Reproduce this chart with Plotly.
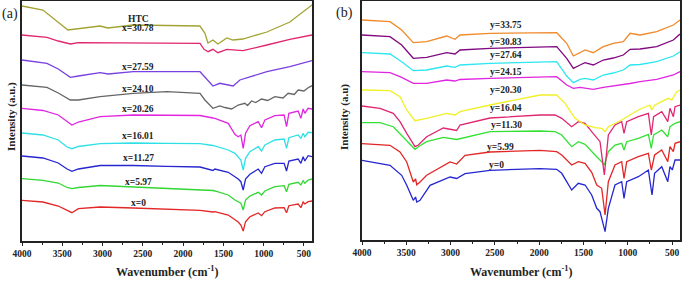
import plotly.graph_objects as go

# ---------------- Panel (a) data ----------------
A_WN_LOW = [4000, 3740, 3550, 3440, 3380, 3300, 3030, 2620, 2200, 1790, 1630, 1605, 1440, 1357, 1316,
            1283, 1254, 1225, 1171, 1068, 1026, 985, 861, 746, 716, 687, 572, 538, 510, 489, 448, 400]
a_x0 = [40.7, 39, 35, 31, 28.3, 32.3, 34, 33, 31.7, 30.7, 29, 29.3, 26, 21, 19,
        16, 10, 19.3, 24.3, 28, 25.3, 29.3, 33, 33.3, 28.3, 35.3, 37, 33.3, 39, 37, 39.3, 40]
a_x597 = [62.3, 60.7, 58, 53.5, 52.3, 53.5, 55.5, 54, 52.5, 51.7, 50.5, 50, 46, 41, 39.3,
          37.7, 31, 41, 45, 48.7, 46, 50, 54.3, 55.3, 49.3, 56.7, 58.7, 56, 60.3, 57.7, 61, 62]
a_x1127 = [85, 83, 78, 72, 69.7, 72, 75.5, 75.5, 74.7, 74, 70.5, 72, 68.7, 64.3, 62,
           59.3, 51, 62, 66.7, 72, 67.7, 74.3, 77.7, 77.7, 70, 80, 82, 77.7, 84.3, 80, 85.3, 84.3]
a_x1601 = [108, 106, 101, 94, 92.3, 94.5, 97.3, 98, 97.7, 97.3, 95.5, 95, 91, 87.7, 84.3,
           81, 71, 82.7, 89.3, 94.3, 90, 96, 101, 102, 92.7, 103.3, 106, 102.7, 107.7, 104.3, 108.7, 108.3]
a_x2026 = [132.7, 130.5, 126, 119, 116, 119, 124.3, 126, 126, 125.5, 123, 122.7, 117.7, 106.7, 104.3,
           106, 92.7, 107.7, 115.3, 119.3, 113.3, 121, 125.3, 126, 114.3, 127.7, 130, 122.7, 132, 127.7, 132.7, 132]

a_x2410_wn = [4000, 3690, 3550, 3400, 3300, 3030, 2620, 2200, 1790, 1730, 1630, 1545, 1481, 1398, 1316,
              1233, 1200, 1150, 1100, 1026, 950, 861, 760, 696, 620, 572, 500, 448, 400]
a_x2410 = [156, 153.7, 148, 141, 141, 144.3, 147.7, 149.3, 147.7, 141, 132.7, 135, 133.5, 132, 136,
           137.7, 135.5, 140, 138.5, 142, 140.5, 144.3, 143, 147.7, 146.5, 151, 150, 153.3, 155.3]

a_x2759_wn = [4000, 3690, 3550, 3400, 3300, 3030, 2930, 2620, 1790, 1730, 1630, 1545, 1420, 1380, 1295, 960, 675, 400]
a_x2759 = [181, 177.7, 172, 163.7, 165, 168.3, 167, 169.3, 169.3, 164.3, 155, 157.7, 156, 155, 161, 169.3, 174.3, 180.3]

a_x3078_wn = [4000, 3690, 3550, 3400, 3300, 2620, 1790, 1740, 1690, 1630, 1568, 1457, 1258, 960, 675, 400]
a_x3078 = [206, 203.7, 200, 197, 198.3, 198.3, 197.7, 191.7, 189.3, 191.7, 188.3, 191.7, 190.3, 196, 201.7, 206]

a_htc_wn = [4000, 3740, 3430, 3032, 2933, 2623, 1792, 1730, 1692, 1630, 1568, 1457, 1382, 1258, 960, 675, 400]
a_htc = [235, 231, 211, 215, 213, 216, 215, 208, 198, 201, 197, 203, 201, 202, 209, 219, 236]

A_NAMES = ["x=0", "x=5.97", "x=11.27", "x=16.01", "x=20.26", "x=24.10", "x=27.59", "x=30.78", "HTC"]
A_COLORS = ["#e32626", "#33d633", "#2626d0", "#2ee0e6", "#e026e0", "#666666", "#7a40e0", "#e0266e", "#a3a332"]
A_LABEL_WN = 2560
A_LABEL_Y = [38, 59, 83, 105, 132, 152, 174, 213, 222]

# ---------------- Panel (b) data ----------------
b_y0_wn = [4000, 3684, 3552, 3495, 3421, 3395, 3382, 3345, 3232, 3006, 2931, 2837, 2555, 1990, 1802, 1745, 1633,
           1558, 1482, 1407, 1350, 1313, 1256, 1219, 1144, 1068, 1042, 1012, 880, 767, 726, 697, 616, 548,
           523, 497, 466, 410]
b_y0 = [79.7, 74.7, 64.7, 54.7, 39.7, 43, 38, 39.7, 54.7, 63, 61.5, 66.3, 69.7, 71.3, 70.7, 66.7, 50,
        56.7, 55, 45, 31.7, 28.3, 8.3, 31.7, 55, 58.3, 41.7, 58.3, 63.3, 70, 45, 66.7, 73.3, 58.3,
        73.3, 70, 80, 80]

b_y599_wn = [4000, 3684, 3571, 3495, 3421, 3395, 3382, 3345, 3270, 3006, 2931, 2837, 2555, 1990, 1802, 1745, 1633,
             1558, 1482, 1407, 1350, 1294, 1256, 1219, 1144, 1068, 1042, 1012, 880, 767, 734, 697, 616, 548,
             523, 485, 466, 410]
b_y599 = [96.3, 94.7, 88, 78, 58, 61, 55.3, 58, 64.7, 78, 76, 84.7, 88, 89.7, 88.3, 85, 75,
          78.3, 76.7, 67.7, 55, 51.7, 25, 58.3, 75, 78.3, 61.7, 78.3, 83.3, 86.7, 70, 85, 90, 78.3,
          93.3, 88.3, 96.7, 98.3]

b_y1130_wn = [4000, 3797, 3647, 3534, 3439, 3402, 3364, 3270, 3082, 2931, 2555, 1990, 1821, 1745, 1633,
              1558, 1482, 1407, 1350, 1294, 1264, 1219, 1144, 1068, 1042, 1012, 880, 767, 734, 708, 616,
              548, 523, 466, 410]
b_y1130 = [117.3, 117.3, 113.3, 103.3, 95, 90.7, 93.3, 98.3, 102.7, 100.5, 108.3, 109, 108.3, 105, 93.3,
           98.3, 95.7, 88.3, 83.3, 78.3, 75, 88.3, 95, 96.7, 90, 98.3, 101.7, 105.7, 91.7, 105, 110,
           103.3, 113.3, 116.7, 118.3]

b_y1604_wn = [4000, 3797, 3647, 3571, 3495, 3439, 3402, 3364, 3270, 3082, 2931, 2894, 2555, 1990, 1821, 1745,
              1633, 1558, 1482, 1407, 1350, 1313, 1264, 1219, 1144, 1068, 1042, 1012, 880, 767, 734, 708,
              616, 548, 523, 485, 466, 410]
b_y1604 = [134, 131.7, 126.7, 118.3, 106.7, 98.3, 93.3, 95, 103.3, 112, 109.5, 115, 122, 125, 125, 121.7,
           113.3, 118.3, 116.7, 108.3, 101.7, 98.3, 65, 105, 115, 118.3, 106.7, 118.3, 123.3, 126.7, 105, 123.3,
           128.3, 118.3, 131.7, 123.3, 133.3, 135]

b_y2030_wn = [4000, 3684, 3571, 3495, 3402, 3270, 3044, 2950, 2894, 2555, 1990, 1802, 1708, 1595, 1482,
              1369, 1294, 1256, 1219, 1068, 881, 749, 730, 692, 542, 503, 447, 410]
b_y2030 = [150, 149.3, 143.3, 130, 119.3, 121.7, 126.7, 125, 128.3, 135, 145, 145, 136.7, 121.7, 115,
           112.3, 111.7, 108.3, 113.3, 120, 130, 135, 130, 135, 141.7, 140, 148.3, 150]

B_WN_UP = [4000, 3684, 3552, 3421, 3270, 3044, 2950, 2894, 2555, 1802, 1689, 1614, 1539, 1482, 1389,
           1276, 1163, 1050, 974, 861, 673, 485, 410]
b_y2415 = [168.3, 167.3, 162.7, 156.7, 156.7, 160, 159, 160.5, 161.7, 163.3, 155, 151.7, 152.7, 152, 150.7,
           152.7, 154, 155, 156.5, 158.3, 160.7, 165, 168.3]
b_y2764 = [187.3, 186, 178.3, 169.3, 170, 174, 172.7, 175, 176.7, 178.3, 164, 157.3, 160.7, 161.7, 160,
           165, 167, 170, 175, 175.5, 178.3, 184, 188.3]
b_y3083 = [205, 203.3, 195, 181.7, 182.7, 187.3, 186, 190, 191.7, 193.3, 181.7, 171.7, 175, 177.3, 175,
           180, 182, 185, 190.7, 191, 193.3, 200, 206]
b_y3375 = [220, 218.3, 210, 197.3, 198.3, 204, 200.7, 205, 206.7, 207.3, 196.7, 184, 187.3, 190, 187.3,
           193.3, 196.7, 198.3, 206.7, 205, 208.3, 215, 220]

B_NAMES = ["y=0", "y=5.99", "y=11.30", "y=16.04", "y=20.30", "y=24.15", "y=27.64", "y=30.83", "y=33.75"]
B_COLORS = ["#2626d0", "#e32626", "#33e033", "#e02670", "#f0f026", "#e026e0", "#2ee6f0", "#800880", "#f08a2a"]
B_LABEL_WN = [2480, 2440, 2370, 2370, 2370, 2370, 2370, 2370, 2370]
B_LABEL_Y = [75.3, 93, 115, 131.7, 150, 168.3, 185, 198.3, 215]

A_TICKS = [4000, 3500, 3000, 2500, 2000, 1500, 1000, 500]
B_TICKS = [4000, 3500, 3000, 2500, 2000, 1500, 1000, 500]

# ---------------- build figure ----------------
a_series = [(A_WN_LOW, a_x0), (A_WN_LOW, a_x597), (A_WN_LOW, a_x1127), (A_WN_LOW, a_x1601),
            (A_WN_LOW, a_x2026), (a_x2410_wn, a_x2410), (a_x2759_wn, a_x2759),
            (a_x3078_wn, a_x3078), (a_htc_wn, a_htc)]
b_series = [(b_y0_wn, b_y0), (b_y599_wn, b_y599), (b_y1130_wn, b_y1130), (b_y1604_wn, b_y1604),
            (b_y2030_wn, b_y2030), (B_WN_UP, b_y2415), (B_WN_UP, b_y2764), (B_WN_UP, b_y3083),
            (B_WN_UP, b_y3375)]

fig = go.Figure()
for (wn, val), name, col in zip(a_series, A_NAMES, A_COLORS):
    fig.add_trace(go.Scatter(x=wn, y=val, mode="lines", name=name, xaxis="x", yaxis="y",
                             line=dict(color=col, width=1.3), showlegend=False))
for (wn, val), name, col in zip(b_series, B_NAMES, B_COLORS):
    fig.add_trace(go.Scatter(x=wn, y=val, mode="lines", name=name, xaxis="x2", yaxis="y2",
                             line=dict(color=col, width=1.3), showlegend=False))

SERIF = "Liberation Serif"
ann = []
for name, yv in zip(A_NAMES, A_LABEL_Y):
    ann.append(dict(x=A_LABEL_WN, y=yv, xref="x", yref="y", text=name, showarrow=False,
                    xanchor="center", yanchor="middle",
                    font=dict(family=SERIF, size=9.5, color="#222", weight="bold")))
for name, xv, yv in zip(B_NAMES, B_LABEL_WN, B_LABEL_Y):
    ann.append(dict(x=xv, y=yv, xref="x2", yref="y2", text=name, showarrow=False,
                    xanchor="center", yanchor="middle",
                    font=dict(family=SERIF, size=9.5, color="#222", weight="bold")))

W, H = 685, 284
def px(x):
    return x / W
def py(y):
    return 1 - y / H

ann += [
    dict(x=px(10), y=py(14), xref="paper", yref="paper", text="(a)", showarrow=False,
         xanchor="center", yanchor="middle", font=dict(family=SERIF, size=14, color="#222")),
    dict(x=px(344), y=py(13), xref="paper", yref="paper", text="(b)", showarrow=False,
         xanchor="center", yanchor="middle", font=dict(family=SERIF, size=14, color="#222")),
    dict(x=px(11), y=py(117), xref="paper", yref="paper", text="Intensity (a.u.)", textangle=-90,
         xanchor="center", yanchor="middle",
         showarrow=False, font=dict(family=SERIF, size=11, color="#222", weight="bold")),
    dict(x=px(344), y=py(117), xref="paper", yref="paper", text="Intensity (a.u)", textangle=-90,
         xanchor="center", yanchor="middle",
         showarrow=False, font=dict(family=SERIF, size=11, color="#222", weight="bold")),
    dict(x=px(167), y=py(271), xref="paper", yref="paper", text="Wavenumber (cm<sup>-1</sup>)",
         xanchor="center", yanchor="middle",
         showarrow=False, font=dict(family=SERIF, size=12, color="#222", weight="bold")),
    dict(x=px(521), y=py(271), xref="paper", yref="paper", text="Wavenumber (cm<sup>-1</sup>)",
         xanchor="center", yanchor="middle",
         showarrow=False, font=dict(family=SERIF, size=12, color="#222", weight="bold")),
]

xcommon = dict(showline=True, linecolor="#222", linewidth=1.5, mirror=True, showgrid=False,
               zeroline=False, ticks="outside", ticklen=3, tickwidth=1.2, tickcolor="#222",
               automargin=False,
               tickfont=dict(family=SERIF, size=9.5, color="#222", weight="bold"),
               minor=dict(ticks="outside", ticklen=2, tickcolor="#222", dtick=250))
ycommon = dict(showline=True, linecolor="#222", linewidth=1.5, mirror=True, showgrid=False,
               zeroline=False, showticklabels=False, ticks="", automargin=False)

fig.update_layout(
    template="none",
    width=W, height=H, autosize=False,
    margin=dict(l=0, r=0, t=0, b=0, pad=0, autoexpand=False),
    paper_bgcolor="white", plot_bgcolor="white",
    hovermode=False,
    xaxis=dict(domain=[px(22), px(312)], range=[4000, 400], tickvals=A_TICKS, anchor="y", **xcommon),
    yaxis=dict(domain=[py(241), py(1)], range=[0, 240], anchor="x", **ycommon),
    xaxis2=dict(domain=[px(362), px(680)], range=[4000, 410], tickvals=B_TICKS, anchor="y2", **xcommon),
    yaxis2=dict(domain=[py(240), py(1)], range=[0, 239], anchor="x2", **ycommon),
    annotations=ann,
)

fig.write_html("out.html", config={"displayModeBar": False},
               post_script="document.body.style.margin='0px';document.body.style.padding='0px';")
